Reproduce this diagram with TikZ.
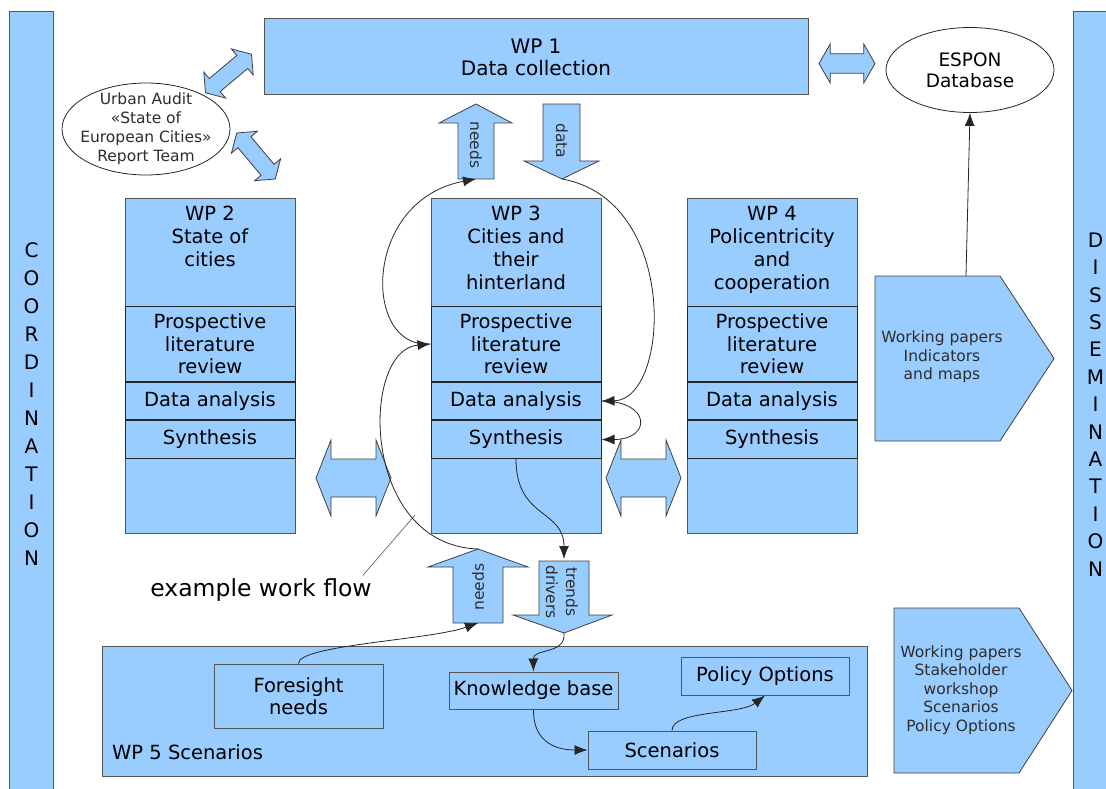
\documentclass[tikz,border=0pt]{standalone}
\usepackage{fontspec}
\setmainfont{DejaVu Sans}
\usetikzlibrary{positioning, shapes.geometric, arrows.meta}
\definecolor{wpblue}{RGB}{153,204,255}
\definecolor{wpedge}{RGB}{85,85,85}
\definecolor{wptext}{RGB}{45,45,45}

\tikzset{
  wpbox/.style={draw=wpedge, fill=wpblue, line width=1pt},
  rowbox/.style={draw=black!85, fill=wpblue, line width=1pt, minimum width=170pt,
    align=center, inner sep=2pt, font=\fontsize{19.5}{22.5}\selectfont},
  innerbox/.style={draw=wpedge, fill=wpblue, line width=1pt,
    align=center, inner sep=2pt, font=\fontsize{19.5}{22.5}\selectfont},
  titletxt/.style={align=center, inner sep=2pt, font=\fontsize{19.5}{23}\selectfont},
  sidebar/.style={wpbox, minimum width=44pt, minimum height=786pt, align=center},
  blockarrow/.style={draw=black!75, fill=wpblue, line width=0.8pt},
  arrowtxt/.style={align=center, inner sep=1pt, text=wptext, font=\fontsize{15.5}{20}\selectfont},
  outtxt/.style={align=center, inner sep=1pt, text=wptext, font=\fontsize{15.5}{18.5}\selectfont},
  flow/.style={-{Latex[length=13pt, width=10pt]}, line width=0.8pt, black!85},
  pointer/.style={draw=black!60, line width=0.7pt},
  dblarrow/.pic={
    \draw[blockarrow] (-1,0) -- (-0.6,-1) -- (-0.6,-0.5) -- (0.6,-0.5) -- (0.6,-1)
      -- (1,0) -- (0.6,1) -- (0.6,0.5) -- (-0.6,0.5) -- (-0.6,1) -- cycle;
  }
}

\begin{document}
\begin{tikzpicture}[x=1pt, y=-1pt]
  \useasboundingbox (0,0) rectangle (1106,789);

  % side bars
  \node[sidebar, anchor=north west, font=\fontsize{20}{28}\selectfont] (coord) at (9,11)
    {C\\O\\O\\R\\D\\I\\N\\A\\T\\I\\O\\N};
  \node[sidebar, anchor=north west, font=\fontsize{20}{27.4}\selectfont] (dissem) at (1073,11)
    {D\\I\\S\\S\\E\\M\\I\\N\\A\\T\\I\\O\\N};

  % WP 1 and the outside partners
  \node[wpbox, minimum width=544pt, minimum height=76pt, align=center,
    font=\fontsize{20}{22}\selectfont] (wp1) at (536,57) {WP 1\\Data collection};
  \node[ellipse, draw=black!85, line width=0.8pt, fill=white, minimum width=168pt,
    minimum height=85pt, align=center, font=\fontsize{18.5}{21}\selectfont]
    (espon) at (970,70) {ESPON\\Database};
  \node[ellipse, draw=black!85, line width=0.8pt, fill=white, minimum width=168pt,
    minimum height=92pt, inner sep=0pt,
    label={[outtxt, font=\fontsize{15.5}{19}\selectfont]center:{Urban Audit\\«State of\\European Cities»\\Report Team}}]
    (audit) at (146,129) {};

  \path (228.5,73.5) pic[rotate=40, xscale=30, yscale=17] {dblarrow};
  \path (256,156) pic[rotate=-50, xscale=30, yscale=17] {dblarrow};
  \path (847,63.5) pic[xscale=28, yscale=19.5] {dblarrow};

  % needs / data between WP 1 and WP 3
  \draw[blockarrow] (458,179) -- (458,123) -- (439,123) -- (476,104) -- (512,123)
    -- (494,123) -- (494,179) -- cycle;
  \node[arrowtxt, rotate=-90] (needsup) at (476,145) {needs};
  \coordinate (needsupfoot) at (476,179);
  \draw[blockarrow] (543,104) -- (580,104) -- (580,161) -- (599,161) -- (562,179)
    -- (524,161) -- (543,161) -- cycle;
  \node[arrowtxt, rotate=-90] (datadown) at (562,141) {data};
  \coordinate (datatip) at (562,179);

  % work packages 2 to 4
  \foreach \n/\x/\title in {2/210/{WP 2\\State of\\cities},
      3/516/{WP 3\\Cities and\\their\\hinterland},
      4/772/{WP 4\\Policentricity\\and\\cooperation}}{
    \node[wpbox, minimum width=170pt, minimum height=335pt] (wp\n) at (\x,365.5) {};
    \node[titletxt, anchor=north] (title\n) at (\x,204) {\title};
    \node[rowbox, minimum height=75pt, anchor=north] (lit\n) at (\x,306)
      {Prospective\\literature\\review};
    \node[rowbox, minimum height=37pt, below=0pt of lit\n] (ana\n) {Data analysis};
    \node[rowbox, minimum height=38pt, below=0pt of ana\n] (syn\n) {Synthesis};
  }
  \path (353.5,478) pic[xscale=37.5, yscale=38] {dblarrow};
  \path (643.5,478) pic[xscale=37.5, yscale=38] {dblarrow};

  % needs / trends between WP 3 and WP 5
  \draw[blockarrow] (453,623) -- (453,567) -- (428,567) -- (478,549) -- (528,567)
    -- (503,567) -- (503,623) -- cycle;
  \node[arrowtxt, rotate=90] (needslow) at (478,587) {needs};
  \coordinate (needslowtip) at (478,549);
  \coordinate (needslowfoot) at (478,623);
  \draw[blockarrow] (539,561) -- (589,561) -- (589,615) -- (612,615) -- (564,633)
    -- (513,615) -- (539,615) -- cycle;
  \node[arrowtxt, rotate=-90] (trends) at (562,592) {trends\\drivers};
  \coordinate (trendstop) at (564,559);
  \coordinate (trendstip) at (564,633);

  % WP 5
  \node[wpbox, minimum width=765pt, minimum height=130pt] (wp5) at (484.5,711) {};
  \node[anchor=west, inner sep=0pt, font=\fontsize{19.5}{22}\selectfont] (wp5lab) at (112,752)
    {WP 5 Scenarios};
  \node[innerbox, minimum width=169pt, minimum height=64pt] (fore) at (298.5,696)
    {Foresight\\needs};
  \node[innerbox, minimum width=169pt, minimum height=37pt] (know) at (533.5,690.5)
    {Knowledge base};
  \node[innerbox, minimum width=168pt, minimum height=38pt] (policy) at (765,676)
    {Policy Options};
  \node[innerbox, minimum width=168pt, minimum height=38pt] (scen) at (672,750)
    {Scenarios};

  % outputs
  \draw[blockarrow] (875,276) -- (1000,276) -- (1054,358.5) -- (1000,441) -- (875,441) -- cycle;
  \node[outtxt] (out1) at (942,357) {Working papers\\Indicators\\and maps};
  \coordinate (out1top) at (966,276);
  \draw[blockarrow] (894,608) -- (1019,608) -- (1072,690.5) -- (1019,773) -- (894,773) -- cycle;
  \node[outtxt] (out2) at (961,690)
    {Working papers\\Stakeholder\\workshop\\Scenarios\\Policy Options};

  % example work flow
  \node[inner sep=3pt, font=\fontsize{23.5}{28}\selectfont] (flowlab) at (261,590)
    {example work flow};
  \coordinate (flowpt) at (415,515);
  \draw[pointer] ([xshift=-12pt]flowlab.north east) -- (flowpt);

  \draw[flow] (out1top) -- (espon.south);
  \draw[flow] (lit3.west) .. controls (362,350) and (362,200) .. (needsupfoot);
  \draw[flow] (needslowtip) .. controls (360,545) and (360,350) .. (lit3.west);
  \draw[flow] (datatip) .. controls (680,200) and (670,400) .. (ana3.east);
  \draw[flow] (ana3.east) .. controls +(50,0) and +(50,0) .. (syn3.east);
  \draw[flow] (syn3.south) .. controls +(0,60) and +(0,-50) .. (trendstop);
  \draw[flow] (trendstip) .. controls (566,655) and (533,648) .. (know.north);
  \draw[flow] (fore.north) .. controls (298,645) and (430,640) .. (needslowfoot);
  \draw[flow] (know.south) .. controls (533,745) and (560,750) .. (scen.west);
  \draw[flow] (scen.north) .. controls (672,710) and (740,715) .. (policy.south);
\end{tikzpicture}
\end{document}
